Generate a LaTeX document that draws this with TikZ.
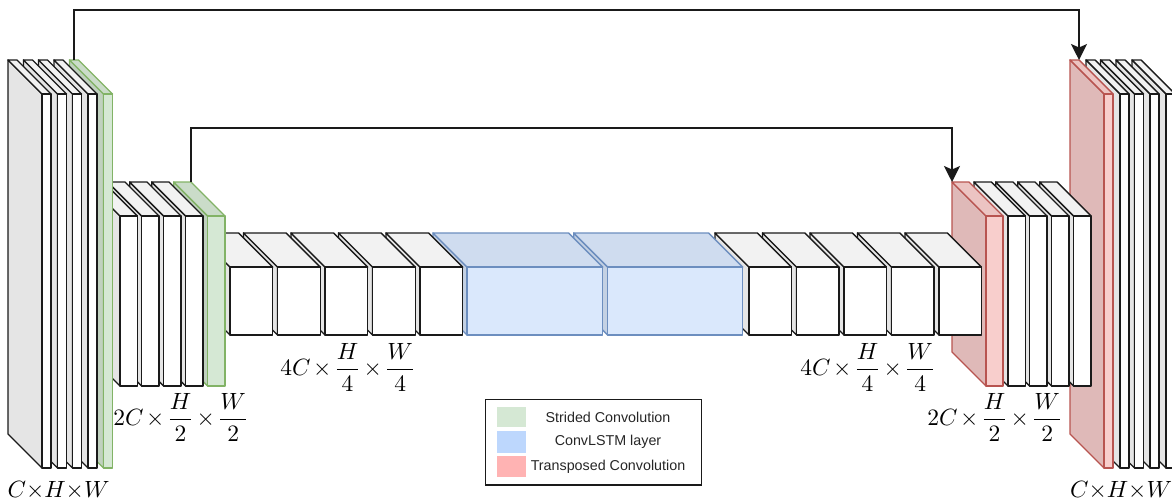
\documentclass[tikz,border=0pt]{standalone}
\usepackage{amsmath}
\usepackage{fontspec}
\setsansfont{Liberation Sans}
\usetikzlibrary{arrows.meta}
\definecolor{plainfill}{HTML}{FFFFFF}
\definecolor{plainline}{HTML}{1A1A1A}
\definecolor{stridedfill}{HTML}{D5E8D4}
\definecolor{stridedline}{HTML}{82B366}
\definecolor{lstmfill}{HTML}{DAE8FC}
\definecolor{lstmline}{HTML}{6C8EBF}
\definecolor{lstmswatch}{HTML}{BDD7FD}
\definecolor{transfill}{HTML}{F8CECC}
\definecolor{transline}{HTML}{B85450}
\definecolor{transswatch}{HTML}{FFB3B3}
\medmuskip=2mu
% #1 kind, #2 name, #3 front left x, #4 front top y, #5 width, #6 height
\newcommand{\layer}[6][plain]{
	\coordinate (#2-nw) at (#3-34,#4-34);
	\coordinate (#2-ne) at (#3-34+#5,#4-34);
	\coordinate (#2-n) at (#3-34+#5/2,#4-34);
	\draw[cubeline, draw=#1line, fill=#1fill!90!black] (#3-34,#4-34) -- (#3,#4) -- (#3,#4+#6) -- (#3-34,#4+#6-34) -- cycle;
	\draw[cubeline, draw=#1line, fill=#1fill!95!black] (#3-34,#4-34) -- (#3-34+#5,#4-34) -- (#3+#5,#4) -- (#3,#4) -- cycle;
	\draw[cubeline, draw=#1line, fill=#1fill] (#3,#4) rectangle (#3+#5,#4+#6);
}
\tikzset{
	cubeline/.style={line width=1.4pt, line join=round},
	skipline/.style={line width=1.4pt, draw=plainline, -{Stealth[length=16pt,width=16pt,inset=3.5pt]}},
	dimlabel/.style={scale=2.35, inner sep=0pt},
	legendtext/.style={font=\sffamily\fontsize{14.3}{17}\selectfont, text=black!85, inner sep=0pt},
	swatch/.style={minimum width=29.5pt, inner sep=0pt, draw=none}
}
\begin{document}
\begin{tikzpicture}[x=1pt, y=-1pt]
	\useasboundingbox (0,0) rectangle (1172,501);
	% drawn from right to left, each layer hides the one behind it
	\foreach \i/\x in {4/1166,3/1150,2/1134.5,1/1120}
		\layer{outA\i}{\x}{94}{9}{374};
	\layer[trans]{transA}{1104}{94}{9}{374}
	\foreach \i/\x in {4/1073.7,3/1051.7,2/1029.7,1/1008}
		\layer{outB\i}{\x}{216}{17.3}{170};
	\layer[trans]{transB}{986}{216}{17}{170}
	\foreach \i/\x in {5/939,4/891.5,3/844,2/796.5,1/749}
		\layer{outC\i}{\x}{267}{42.3}{68};
	\layer[lstm]{lstmB}{607.7}{267}{135}{68}
	\layer[lstm]{lstmA}{467}{267}{135.7}{68}
	\foreach \i/\x in {5/420,4/372.5,3/325,2/277.5,1/230}
		\layer{inC\i}{\x}{267}{42.7}{68};
	\layer[strided]{stridedB}{207.7}{216}{17.3}{170}
	\foreach \i/\x in {4/185.7,3/163.7,2/141.7,1/120}
		\layer{inB\i}{\x}{216}{17.3}{170};
	\layer[strided]{stridedA}{103.5}{94}{9}{374}
	\foreach \i/\x in {4/88,3/72.5,2/57.5,1/42}
		\layer{inA\i}{\x}{94}{9}{374};
	% skip connections
	\draw[skipline] (stridedA-n) -- ++(0,-50) -| (transA-ne);
	\draw[skipline] (stridedB-ne) -- ++(0,-54) -| (transB-nw);
	% sizes
	\node[dimlabel] (sizeA) at (58.5,490) {$C{\times}H{\times}W$};
	\node[dimlabel] (sizeB) at (181,417.5) {$2C\times\dfrac{H}{2}\times\dfrac{W}{2}$};
	\node[dimlabel] (sizeC) at (348,367.5) {$4C\times\dfrac{H}{4}\times\dfrac{W}{4}$};
	\node[dimlabel] (sizeD) at (868,367.5) {$4C\times\dfrac{H}{4}\times\dfrac{W}{4}$};
	\node[dimlabel] (sizeE) at (995,417.5) {$2C\times\dfrac{H}{2}\times\dfrac{W}{2}$};
	\node[dimlabel] (sizeF) at (1121,490) {$C{\times}H{\times}W$};
	% legend
	\node[draw=plainline, line width=1.4pt, minimum width=216pt, minimum height=85.5pt, inner sep=0pt] (legend) at (593.7,442.2) {};
	\node[swatch, fill=stridedfill, minimum height=20pt] (swatchA) at (511.5,417) {};
	\node[swatch, fill=lstmswatch, minimum height=22pt] (swatchB) at (511.5,442) {};
	\node[swatch, fill=transswatch, minimum height=21pt] (swatchC) at (511.5,466.5) {};
	\node[legendtext] (textA) at (608,417.5) {Strided Convolution};
	\node[legendtext] (textB) at (608,441.5) {ConvLSTM layer};
	\node[legendtext] (textC) at (608,466.5) {Transposed Convolution};
\end{tikzpicture}
\end{document}
